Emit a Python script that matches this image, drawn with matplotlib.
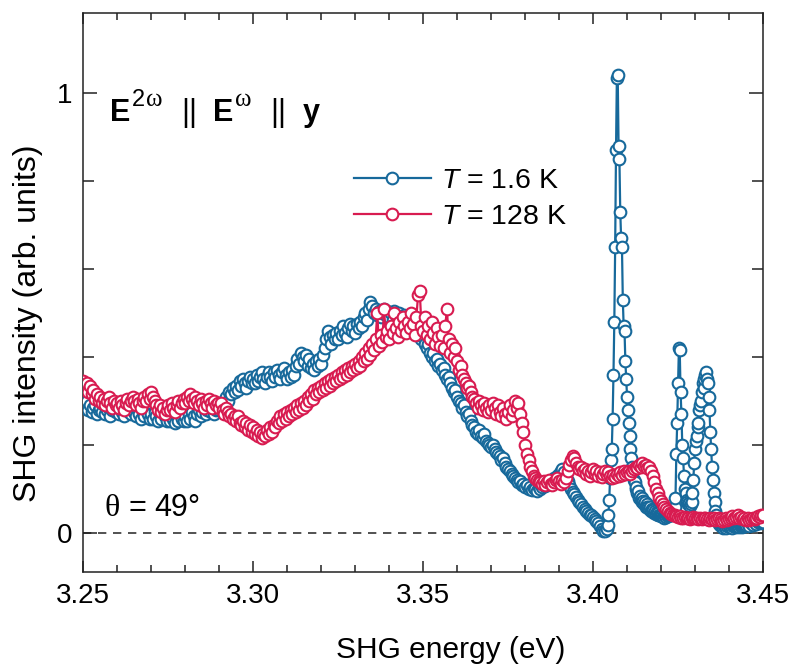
import numpy as np
import matplotlib
matplotlib.use("Agg")
import matplotlib.pyplot as plt
from matplotlib.ticker import MultipleLocator, FixedLocator

plt.rcParams['font.family'] = ['Liberation Sans', 'DejaVu Sans']
plt.rcParams['mathtext.fontset'] = 'custom'
plt.rcParams['mathtext.rm'] = 'Liberation Sans'
plt.rcParams['mathtext.it'] = 'Liberation Sans:italic'
plt.rcParams['mathtext.bf'] = 'Liberation Sans:bold'

# ---------------- data ----------------
# T = 1.6 K, low-energy part: start 3.250 eV, step 0.0005 eV
blue_lo_start, blue_lo_step = 3.250, 0.0005
blue_lo = [
    0.295,0.285,0.300,0.280,0.290,0.275,0.285,0.290,0.270,0.280,
    0.285,0.275,0.290,0.270,0.280,0.285,0.265,0.280,0.290,0.275,
    0.280,0.270,0.285,0.275,0.265,0.280,0.290,0.275,0.270,0.285,
    0.275,0.265,0.280,0.270,0.260,0.275,0.265,0.280,0.270,0.260,
    0.270,0.260,0.275,0.265,0.255,0.270,0.260,0.275,0.265,0.255,
    0.265,0.255,0.270,0.260,0.250,0.265,0.255,0.270,0.260,0.255,
    0.265,0.255,0.270,0.260,0.275,0.265,0.255,0.270,0.280,0.265,
    0.275,0.285,0.270,0.280,0.290,0.275,0.285,0.270,0.280,0.290,
    0.280,0.295,0.285,0.300,0.310,0.300,0.320,0.315,0.330,0.320,
    0.335,0.325,0.345,0.335,0.350,0.340,0.330,0.345,0.355,0.340,
    0.350,0.340,0.360,0.345,0.355,0.365,0.350,0.340,0.355,0.365,
    0.355,0.345,0.365,0.355,0.370,0.360,0.350,0.365,0.375,0.360,
    0.350,0.365,0.355,0.370,0.360,0.380,0.395,0.385,0.410,0.400,
    0.390,0.405,0.380,0.395,0.375,0.385,0.370,0.390,0.380,0.395,
    0.385,0.405,0.420,0.440,0.460,0.445,0.430,0.450,0.440,0.455,
    0.440,0.460,0.450,0.470,0.455,0.445,0.465,0.475,0.460,0.470,
    0.455,0.475,0.465,0.480,0.470,0.490,0.500,0.485,0.510,0.525,
    0.515,0.500,0.510,0.495,0.505,0.490,0.500,0.510,0.495,0.505,
    0.490,0.500,0.485,0.505,0.495,0.485,0.500,0.490,0.480,0.495,
    0.490,0.480,0.495,0.475,0.485,0.470,0.460,0.470,0.450,0.440,
    0.445,0.430,0.420,0.430,0.410,0.400,0.410,0.390,0.395,0.380,
    0.385,0.370,0.375,0.360,0.350,0.355,0.340,0.330,0.320,0.325,
    0.310,0.300,0.295,0.285,0.290,0.275,0.265,0.270,0.255,0.245,
    0.240,0.230,0.225,0.235,0.220,0.215,0.225,0.210,0.205,0.200,
    0.195,0.200,0.190,0.185,0.180,0.175,0.165,0.170,0.160,0.150,
    0.145,0.140,0.135,0.130,0.125,0.120,0.115,0.118,0.110,0.112,
    0.105,0.108,0.100,0.104,0.098,0.102,0.100,0.096,0.105,0.100,
    0.104,0.110,0.106,0.112,0.118,0.114,0.120,0.125,0.122,0.130,
    0.135,0.140,0.145,0.138,0.128,0.118,0.108,0.100,0.094,0.088,
    0.082,0.076,0.070,0.065,0.060,0.055,0.050,0.046,0.042,0.040,
    0.036,0.032,0.028,0.022,0.016,0.010,0.005,0.004,
]
# T = 1.6 K, resonance region: start 3.404 eV, step 0.00025 eV
blue_pk_start, blue_pk_step = 3.404, 0.00025
blue_pk = [
    0.008,0.018,0.040,0.075,0.125,0.165,0.190,0.260,0.360,0.480,
    0.650,0.870,1.035,1.040,0.880,0.850,0.730,0.670,0.650,0.530,
    0.470,0.460,0.390,0.350,0.310,0.280,0.250,0.220,0.190,0.170,
    0.150,0.140,0.120,0.115,0.100,0.105,0.090,0.095,0.080,0.085,
    0.075,0.080,0.070,0.072,0.065,0.070,0.060,0.065,0.058,0.060,
    0.055,0.058,0.050,0.055,0.048,0.052,0.045,0.050,0.043,0.047,
    0.040,0.045,0.040,0.042,0.038,0.042,0.036,0.040,0.035,0.038,
    0.036,0.040,0.038,0.042,0.040,0.045,0.042,0.048,0.050,0.055,
    0.060,0.080,0.180,0.250,0.340,0.420,0.415,0.320,0.270,0.200,
    0.170,0.130,0.100,0.090,0.075,0.070,0.065,0.068,0.062,0.066,
    0.070,0.090,0.120,0.160,0.190,0.210,0.220,0.240,0.250,0.280,
    0.290,0.300,0.320,0.340,0.330,0.350,0.360,0.365,0.350,0.340,
    0.310,0.280,0.230,0.190,0.150,0.120,0.090,0.070,0.050,0.040,
    0.030,0.025,0.020,
    0.018,0.015,0.020,0.016,0.012,0.015,0.018,0.014,0.012,0.016,
    0.020,0.017,0.014,0.018,0.015,0.012,0.016,0.019,0.015,0.013,
    0.017,0.020,0.016,0.014,0.018,0.015,0.013,0.016,0.019,0.017,
    0.015,
]
# T = 1.6 K, high-energy tail: start 3.445 eV, step 0.0005 eV
blue_hi_start, blue_hi_step = 3.445, 0.0005
blue_hi = [0.018,0.020,0.016,0.022,0.019,0.024,0.020,0.025,0.022,0.026,0.024]

# T = 128 K: start 3.250 eV, step 0.0005 eV
red_start, red_step = 3.250, 0.0005
red = [
    0.345,0.330,0.340,0.320,0.335,0.315,0.325,0.305,0.315,0.300,
    0.310,0.295,0.305,0.290,0.300,0.310,0.295,0.285,0.300,0.290,
    0.295,0.285,0.300,0.290,0.280,0.295,0.305,0.290,0.300,0.310,
    0.300,0.290,0.305,0.295,0.285,0.300,0.310,0.300,0.315,0.305,
    0.320,0.310,0.300,0.290,0.280,0.290,0.275,0.285,0.270,0.280,
    0.290,0.280,0.295,0.285,0.275,0.290,0.300,0.285,0.295,0.305,
    0.295,0.310,0.300,0.315,0.305,0.295,0.310,0.300,0.290,0.305,
    0.295,0.285,0.300,0.290,0.305,0.295,0.285,0.300,0.290,0.295,
    0.285,0.295,0.280,0.270,0.285,0.275,0.265,0.270,0.260,0.265,
    0.255,0.265,0.250,0.245,0.255,0.240,0.250,0.235,0.245,0.230,
    0.240,0.225,0.235,0.220,0.230,0.215,0.225,0.220,0.235,0.225,
    0.240,0.230,0.245,0.240,0.255,0.250,0.265,0.255,0.270,0.260,
    0.275,0.265,0.280,0.270,0.285,0.275,0.290,0.280,0.295,0.285,
    0.300,0.290,0.310,0.300,0.315,0.305,0.325,0.315,0.330,0.320,
    0.335,0.325,0.340,0.330,0.345,0.335,0.350,0.340,0.355,0.345,
    0.360,0.350,0.365,0.355,0.370,0.360,0.375,0.365,0.380,0.370,
    0.385,0.375,0.390,0.380,0.400,0.390,0.410,0.395,0.420,0.405,
    0.430,0.415,0.440,0.500,0.425,0.450,0.435,0.510,0.445,0.460,
    0.440,0.470,0.455,0.500,0.465,0.445,0.480,0.460,0.490,0.470,
    0.455,0.480,0.465,0.500,0.475,0.450,0.490,0.540,0.550,0.470,
    0.460,0.490,0.450,0.470,0.440,0.480,0.455,0.430,0.465,0.445,
    0.425,0.450,0.420,0.470,0.510,0.440,0.410,0.430,0.400,0.420,
    0.390,0.370,0.380,0.360,0.350,0.340,0.330,0.335,0.320,0.310,
    0.305,0.295,0.285,0.300,0.290,0.280,0.295,0.285,0.275,0.290,
    0.280,0.295,0.285,0.270,0.290,0.275,0.265,0.285,0.270,0.260,
    0.275,0.290,0.265,0.280,0.300,0.285,0.295,0.270,0.250,0.230,
    0.200,0.180,0.165,0.150,0.140,0.130,0.125,0.120,0.118,0.115,
    0.112,0.118,0.110,0.115,0.120,0.112,0.108,0.115,0.120,0.125,
    0.118,0.112,0.120,0.115,0.125,0.140,0.155,0.165,0.175,0.170,
    0.160,0.150,0.145,0.150,0.140,0.145,0.135,0.140,0.130,0.138,
    0.145,0.135,0.140,0.130,0.138,0.128,0.135,0.140,0.132,0.138,
    0.130,0.125,0.132,0.128,0.135,0.130,0.138,0.132,0.140,0.135,
    0.138,0.142,0.135,0.140,0.145,0.150,0.148,0.155,0.150,0.158,
    0.152,0.155,0.148,0.150,0.140,0.130,0.115,0.100,0.090,0.080,
    0.072,0.065,0.060,0.055,0.050,0.046,0.044,0.042,0.040,0.038,
    0.036,0.038,0.035,0.034,0.036,0.033,0.035,0.032,0.034,0.036,
    0.033,0.035,0.032,0.034,0.031,0.033,0.035,0.032,0.030,0.033,
    0.031,0.034,0.030,0.032,0.035,0.031,0.028,0.030,0.033,0.029,
    0.032,0.035,0.038,0.033,0.036,0.040,0.034,0.037,0.032,0.035,
    0.030,0.033,0.029,0.032,0.035,0.031,0.034,0.038,0.036,0.040,
    0.042,
]

labels = [r'$T$ = 1.6 K', r'$T$ = 128 K']
xticks = [3.25, 3.30, 3.35, 3.40, 3.45]
yticks = [0, 1]

# ---------------- build x arrays ----------------
xb = np.concatenate([
    blue_lo_start + blue_lo_step * np.arange(len(blue_lo)),
    blue_pk_start + blue_pk_step * np.arange(len(blue_pk)),
    blue_hi_start + blue_hi_step * np.arange(len(blue_hi)),
])
yb = np.array(blue_lo + blue_pk + blue_hi)
xr = red_start + red_step * np.arange(len(red))
yr = np.array(red)

c_blue = '#17699b'
c_red = '#d81b50'

W, H = 795, 668
fig = plt.figure(figsize=(W / 100, H / 100), dpi=100)
ax = fig.add_axes([83.3 / W, 96 / H, (763 - 83.3) / W, (572 - 13) / H])

ax.axhline(0, color='#333333', lw=1.2, ls=(0, (5, 4)), zorder=1)

mk = dict(marker='o', ms=8.4, mew=1.5, mfc='white', lw=1.6)
ax.plot(xb, yb, color=c_blue, mec=c_blue, label=labels[0], zorder=3, **mk)
ax.plot(xr, yr, color=c_red, mec=c_red, label=labels[1], zorder=4, **mk)

ax.set_xlim(3.25, 3.45)
ax.set_ylim(-0.0886, 1.1818)
ax.xaxis.set_major_locator(FixedLocator(xticks))
ax.xaxis.set_minor_locator(MultipleLocator(0.01))
ax.yaxis.set_major_locator(FixedLocator(yticks))
ax.yaxis.set_minor_locator(MultipleLocator(0.2))
ax.set_xticklabels(['3.25', '3.30', '3.35', '3.40', '3.45'])
ax.set_yticklabels(['0', '1'])

ax.tick_params(which='both', direction='in', top=True, right=True,
               width=1.1, labelsize=20, pad=8, color='#222222')
ax.tick_params(axis='x', which='major', length=8)
ax.tick_params(axis='x', which='minor', length=5)
ax.tick_params(axis='y', which='major', length=10)
ax.tick_params(axis='y', which='minor', length=8)
for s in ax.spines.values():
    s.set_linewidth(1.1)
    s.set_color('#222222')

ax.set_xlabel('SHG energy (eV)', fontsize=21.5)
ax.set_ylabel('SHG intensity (arb. units)', fontsize=23)
ax.xaxis.set_label_coords((451 - 83.3) / 680, (572 - 636) / 559)
ax.yaxis.set_label_coords((43 - 83.3) / 680, (572 - 323) / 559)

# polarization annotation, built from pieces (pixel positions of the figure)
def ptext(px, py, s, size, **kw):
    return fig.text(px / W, 1 - py / H, s, fontsize=size, ha='left',
                    va='baseline', **kw)

base, sup = 121, 106
ptext(110, base, 'E', 22, fontweight='bold')
ptext(132, sup, '2', 17)
ptext(146, sup, 'ω', 18, family='Liberation Serif')
ptext(181, base, '||', 22)
ptext(213, base, 'E', 22, fontweight='bold')
ptext(235, sup, 'ω', 18, family='Liberation Serif')
ptext(270, base, '||', 22)
ptext(303, base, 'y', 22, fontweight='bold')

ptext(104, 516, 'θ', 23, family='Liberation Serif')
ptext(129, 516, '=', 22)
ptext(154, 516, '49°', 22)

leg = ax.legend(loc='upper left', bbox_to_anchor=(0.398, 0.722), frameon=False,
                fontsize=20.5, handlelength=2.7, handletextpad=0.35,
                labelspacing=0.33, borderaxespad=0, borderpad=0, numpoints=1)

fig.savefig('out.png', dpi=100)
